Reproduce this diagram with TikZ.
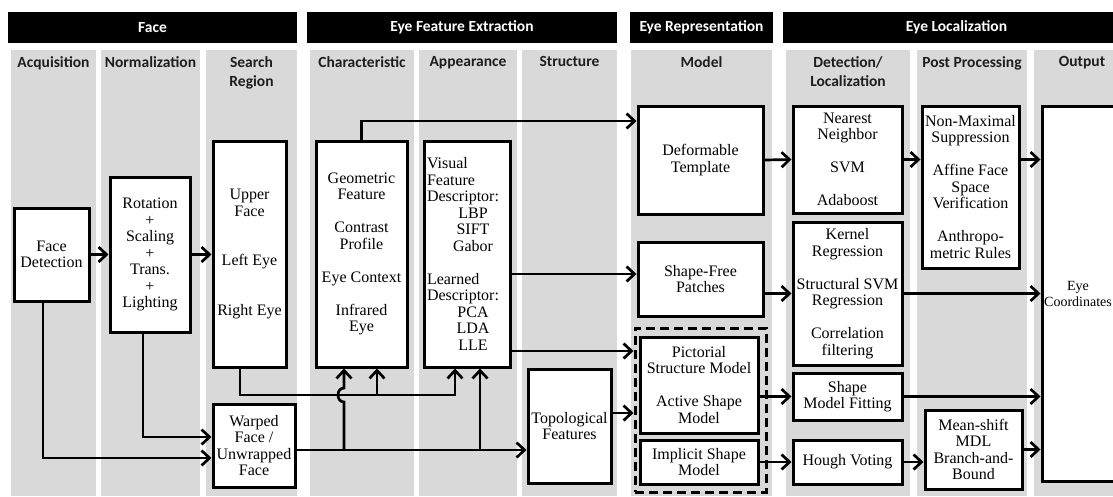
\documentclass[tikz,border=0pt]{standalone}
\usepackage{fontspec}
\setmainfont{Liberation Serif}
\newfontfamily\headfont{Carlito}
\usepackage{tikz}
\usetikzlibrary{arrows.meta}
\definecolor{colbg}{RGB}{217,217,217}
\definecolor{titlegray}{RGB}{30,30,30}
\newcommand{\apitem}[1]{\hspace*{15pt}\makebox[62pt]{#1}}

\begin{document}
\begin{tikzpicture}[x=1pt, y=-1pt, align=center,
    box/.style={draw, line width=3pt, fill=white, inner sep=2pt,
        font=\fontsize{16}{16.5}\selectfont},
    sz/.style 2 args={minimum width=#1pt, minimum height=#2pt},
    dashbox/.style={draw, line width=3pt, dash pattern=on 9pt off 5pt, inner sep=0pt},
    headtxt/.style={text=white, font=\headfont\bfseries\fontsize{15.5}{19}\selectfont},
    coltitle/.style={anchor=north, inner sep=0pt, text=titlegray,
        font=\headfont\bfseries\fontsize{15.5}{19}\selectfont},
    arr/.style={line width=2.7pt, -{Straight Barb[length=8pt,width=15pt]}}]
    \useasboundingbox (0,0) rectangle (1113,496);
    \clip (0,0) rectangle (1113,496);

    \foreach \xa/\xb/\ttl in {8/297/Face, 307/617/Eye Feature Extraction,
        630/773/Eye Representation, 783/1130/Eye Localization}{
        \fill (\xa,12) rectangle (\xb,43);
        \node[headtxt] (head\xa) at ({(\xa+\xb)/2},27.5) {\ttl};
    }
    \foreach \xa/\xb/\ttl in {11/96/Acquisition, 101/200/Normalization,
        206/297/{Search\\Region}, 310/414/Characteristic, 419/517/Appearance,
        522/617/Structure, 631/772/Model, 786/910/{Detection/\\Localization},
        917/1027/Post Processing, 1034/1130/Output}{
        \fill[colbg] (\xa,50) rectangle (\xb,496);
        \node[coltitle] (col\xa) at ({(\xa+\xb)/2},56) {\ttl};
    }

    \node[box, sz={75}{93}] (fd) at (51.5,254.5) {Face\\Detection};
    \node[box, sz={80}{155}] (rot) at (150,254.5) {Rotation\\+\\Scaling\\+\\Trans.\\+\\Lighting};
    \node[box, sz={73}{226}] (sr) at (249.5,254) {Upper\\Face\\[33pt]Left Eye\\[33pt]Right Eye};
    \node[box, sz={82}{83}] (wf) at (254,445.5) {Warped\\Face /\\Unwrapped\\Face};
    \node[box, sz={91}{226}] (ch) at (361.5,254)
        {Geometric\\Feature\\[16.5pt]Contrast\\Profile\\[16.5pt]Eye Context\\[16.5pt]Infrared\\Eye};
    \node[box, sz={86}{226}, align=left, text width=80pt, inner sep=3pt] (ap) at (467,254)
        {Visual\\Feature\\Descriptor:\\\apitem{LBP}\\\apitem{SIFT}\\\apitem{Gabor}\\[16.5pt]%
        Learned\\Descriptor:\\\apitem{PCA}\\\apitem{LDA}\\\apitem{LLE}};
    \node[box, sz={83}{114}] (tp) at (569.5,426) {Topological\\Features};

    \node[box, sz={125}{108}] (dt) at (700.5,160) {Deformable\\Template};
    \node[box, sz={125}{74}] (sf) at (700.5,279) {Shape-Free\\Patches};
    \node[dashbox, sz={131}{164}] (dash) at (700.5,410) {};
    \node[box, sz={118}{96}] (ps) at (699,385) {Pictorial\\Structure Model\\[16.5pt]Active Shape\\Model};
    \node[box, sz={118}{44}] (is) at (699,462) {Implicit Shape\\Model};

    \node[box, sz={109}{107}] (nn) at (847.5,159.5) {Nearest\\Neighbor\\[16.5pt]SVM\\[16.5pt]Adaboost};
    \node[box, sz={109}{143}] (kr) at (847.5,293.5)
        {Kernel\\Regression\\[16.5pt]Structural SVM\\Regression\\[16.5pt]Correlation\\filtering};
    \node[box, sz={109}{47}] (smf) at (847.5,396.5) {Shape\\Model Fitting};
    \node[box, sz={109}{44}] (hv) at (847.5,462) {Hough Voting};
    \node[box, sz={97}{162}] (pp) at (970.5,187)
        {Non-Maximal\\Suppression\\[16.5pt]Affine Face\\Space\\Verification\\[16.5pt]Anthropo-\\metric Rules};
    \node[box, sz={97}{79}] (ms) at (973.5,449.5) {Mean-shift\\MDL\\Branch-and-\\Bound};
    \node[box, sz={72}{375}, font=\fontsize{14}{16}\selectfont] (out) at (1078,293.5) {Eye\\Coordinates};

    \coordinate (srj) at (377,395);
    \coordinate (wfa) at (344,450);
    \coordinate (wfb) at (480,450);

    \draw[arr] (fd.east) -- (fd.east -| rot.west);
    \draw[arr] (rot.east) -- (rot.east -| sr.west);
    \draw[arr] (fd.south -| 43,0) |- (wf.west |- 0,458);
    \draw[arr] (rot.south -| 143,0) |- (wf.west |- 0,437);
    \draw[arr] (sr.south -| 240,0) |- (455,395) -- (ap.south -| 455,0);
    \draw[arr] (srj) -- (ch.south -| srj);
    \draw[arr] (wf.east |- 0,450) -- (tp.west |- 0,450);
    \draw[arr] (wfa) -- (344,402) .. controls (336,402) and (336,388) .. (344,388) -- (ch.south -| wfa);
    \draw[arr] (wfb) -- (ap.south -| wfb);
    \draw[arr] (ch.north) |- (dt.west |- 0,121);
    \draw[arr] (ap.east |- 0,274) -- (sf.west |- 0,274);
    \draw[arr] (ap.east |- 0,351) -- (dash.west |- 0,351);
    \draw[arr] (tp.east |- 0,413) -- (dash.west |- 0,413);
    \draw[arr] (dt.east) -- (nn.west);
    \draw[arr] (sf.east |- kr.west) -- (kr.west);
    \draw[arr] (ps.east |- smf.west) -- (smf.west);
    \draw[arr] (is.east) -- (hv.west);
    \draw[arr] (nn.east) -- (nn.east -| pp.west);
    \draw[arr] (pp.east |- nn.east) -- (nn.east -| out.west);
    \draw[arr] (kr.east) -- (kr.east -| out.west);
    \draw[arr] (smf.east) -- (smf.east -| out.west);
    \draw[arr] (hv.east) -- (hv.east -| ms.west);
    \draw[arr] (ms.east) -- (ms.east -| out.west);
\end{tikzpicture}
\end{document}
